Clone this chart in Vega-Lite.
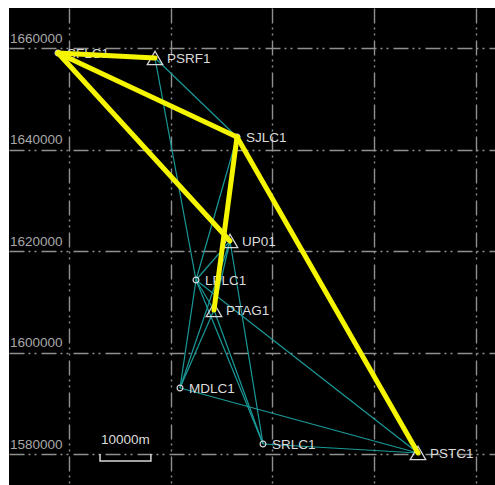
{
  "$schema": "https://vega.github.io/schema/vega-lite/v6.json",
  "width": 495,
  "height": 485,
  "autosize": {"type": "fit", "contains": "padding"},
  "padding": {"left": 9, "top": 8, "right": 0, "bottom": 0},
  "background": "white",
  "config": {
    "view": {"fill": "black", "stroke": null},
    "axis": {"gridColor": "#909090", "gridWidth": 1.4, "gridDash": [15, 4, 2, 4, 2, 5], "gridOpacity": 1, "domain": false, "ticks": false, "title": null}
  },
  "datasets": {
    "stations": [
      {"name": "SFLC1", "kind": "circle", "x": 457838, "y": 1659015},
      {"name": "PSRF1", "kind": "triangle", "x": 476904, "y": 1658030},
      {"name": "SJLC1", "kind": "circle", "x": 493022, "y": 1642463},
      {"name": "UP01", "kind": "triangle", "x": 491646, "y": 1621971},
      {"name": "LPLC1", "kind": "circle", "x": 484963, "y": 1614287},
      {"name": "PTAG1", "kind": "triangle", "x": 488501, "y": 1608376},
      {"name": "MDLC1", "kind": "circle", "x": 481818, "y": 1593006},
      {"name": "SRLC1", "kind": "circle", "x": 498133, "y": 1581972},
      {"name": "PSTC1", "kind": "triangle", "x": 528600, "y": 1580199}
    ],
    "teal": [
      {"edge": "t1", "ord": 0, "x": 476904, "y": 1658030}, {"edge": "t1", "ord": 1, "x": 493022, "y": 1642463},
      {"edge": "t2", "ord": 0, "x": 476904, "y": 1658030}, {"edge": "t2", "ord": 1, "x": 484963, "y": 1614287},
      {"edge": "t3", "ord": 0, "x": 493022, "y": 1642463}, {"edge": "t3", "ord": 1, "x": 484963, "y": 1614287},
      {"edge": "t4", "ord": 0, "x": 491646, "y": 1621971}, {"edge": "t4", "ord": 1, "x": 484963, "y": 1614287},
      {"edge": "t5", "ord": 0, "x": 491646, "y": 1621971}, {"edge": "t5", "ord": 1, "x": 488501, "y": 1608376},
      {"edge": "t6", "ord": 0, "x": 491646, "y": 1621971}, {"edge": "t6", "ord": 1, "x": 481818, "y": 1593006},
      {"edge": "t7", "ord": 0, "x": 491646, "y": 1621971}, {"edge": "t7", "ord": 1, "x": 498133, "y": 1581972},
      {"edge": "t8", "ord": 0, "x": 484963, "y": 1614287}, {"edge": "t8", "ord": 1, "x": 481818, "y": 1593006},
      {"edge": "t9", "ord": 0, "x": 484963, "y": 1614287}, {"edge": "t9", "ord": 1, "x": 498133, "y": 1581972},
      {"edge": "t10", "ord": 0, "x": 484963, "y": 1614287}, {"edge": "t10", "ord": 1, "x": 528600, "y": 1580199},
      {"edge": "t11", "ord": 0, "x": 488501, "y": 1608376}, {"edge": "t11", "ord": 1, "x": 481818, "y": 1593006},
      {"edge": "t12", "ord": 0, "x": 488501, "y": 1608376}, {"edge": "t12", "ord": 1, "x": 498133, "y": 1581972},
      {"edge": "t14", "ord": 0, "x": 481818, "y": 1593006}, {"edge": "t14", "ord": 1, "x": 528600, "y": 1580199},
      {"edge": "t15", "ord": 0, "x": 498133, "y": 1581972}, {"edge": "t15", "ord": 1, "x": 528600, "y": 1580199},
      {"edge": "t16", "ord": 0, "x": 484963, "y": 1614287}, {"edge": "t16", "ord": 1, "x": 488501, "y": 1608376}
    ],
    "yellow": [
      {"edge": "y1", "ord": 0, "x": 457838, "y": 1659015}, {"edge": "y1", "ord": 1, "x": 476904, "y": 1658030},
      {"edge": "y2", "ord": 0, "x": 457838, "y": 1659015}, {"edge": "y2", "ord": 1, "x": 493022, "y": 1642463},
      {"edge": "y3", "ord": 0, "x": 457838, "y": 1659015}, {"edge": "y3", "ord": 1, "x": 491646, "y": 1621971},
      {"edge": "y4", "ord": 0, "x": 493022, "y": 1642463}, {"edge": "y4", "ord": 1, "x": 488501, "y": 1608376},
      {"edge": "y5", "ord": 0, "x": 493022, "y": 1642463}, {"edge": "y5", "ord": 1, "x": 528600, "y": 1580199}
    ],
    "scalebar": [
      {"ord": 0, "x": 466100, "y": 1580000},
      {"ord": 1, "x": 466100, "y": 1578600},
      {"ord": 2, "x": 476100, "y": 1578600},
      {"ord": 3, "x": 476100, "y": 1580000}
    ],
    "scaletext": [{"label": "10000m", "x": 471100, "y": 1581400}]
  },
  "layer": [
    {
      "data": {"name": "teal"},
      "mark": {"type": "line", "stroke": "#1a9a9a", "strokeWidth": 1.2},
      "encoding": {
        "x": {"field": "x", "type": "quantitative", "scale": {"domain": [448206, 543735], "zero": false, "nice": false},
              "axis": {"values": [460000, 480000, 500000, 520000, 540000], "labels": false, "grid": true}},
        "y": {"field": "y", "type": "quantitative", "scale": {"domain": [1573892, 1667882], "zero": false, "nice": false},
              "axis": {"values": [1580000, 1600000, 1620000, 1640000, 1660000], "format": "d", "offset": -60, "labelPadding": 7,
                       "labelBaseline": "bottom", "labelOffset": -3, "labelColor": "#a8a8a8", "labelFont": "Liberation Sans", "labelFontSize": 13.5, "grid": true}},
        "detail": {"field": "edge"},
        "order": {"field": "ord"}
      }
    },
    {
      "data": {"name": "stations"},
      "transform": [{"filter": "datum.kind === 'triangle'"}],
      "mark": {"type": "point", "shape": "triangle-up", "size": 240, "filled": false, "stroke": "#d8d8d8", "strokeWidth": 1.3, "opacity": 1},
      "encoding": {"x": {"field": "x", "type": "quantitative"}, "y": {"field": "y", "type": "quantitative"}}
    },
    {
      "data": {"name": "stations"},
      "transform": [{"filter": "datum.kind === 'circle'"}],
      "mark": {"type": "point", "shape": "circle", "size": 34, "filled": false, "stroke": "#d8d8d8", "strokeWidth": 1.2, "opacity": 1},
      "encoding": {"x": {"field": "x", "type": "quantitative"}, "y": {"field": "y", "type": "quantitative"}}
    },
    {
      "data": {"name": "stations"},
      "transform": [{"filter": "datum.kind === 'triangle'"}],
      "mark": {"type": "text", "align": "left", "baseline": "middle", "dx": 12, "dy": 1.5, "font": "Liberation Sans", "fontSize": 13.5, "color": "#dcdcdc"},
      "encoding": {"x": {"field": "x", "type": "quantitative"}, "y": {"field": "y", "type": "quantitative"}, "text": {"field": "name"}}
    },
    {
      "data": {"name": "stations"},
      "transform": [{"filter": "datum.kind === 'circle'"}],
      "mark": {"type": "text", "align": "left", "baseline": "middle", "dx": 9, "dy": 1, "font": "Liberation Sans", "fontSize": 13.5, "color": "#dcdcdc"},
      "encoding": {"x": {"field": "x", "type": "quantitative"}, "y": {"field": "y", "type": "quantitative"}, "text": {"field": "name"}}
    },
    {
      "data": {"name": "yellow"},
      "mark": {"type": "line", "stroke": "#f5f500", "strokeWidth": 5, "strokeCap": "round"},
      "encoding": {
        "x": {"field": "x", "type": "quantitative"},
        "y": {"field": "y", "type": "quantitative"},
        "detail": {"field": "edge"},
        "order": {"field": "ord"}
      }
    },
    {
      "data": {"name": "scalebar"},
      "mark": {"type": "line", "stroke": "#d8d8d8", "strokeWidth": 1.5},
      "encoding": {
        "x": {"field": "x", "type": "quantitative"},
        "y": {"field": "y", "type": "quantitative"},
        "order": {"field": "ord"}
      }
    },
    {
      "data": {"name": "scaletext"},
      "mark": {"type": "text", "align": "center", "baseline": "bottom", "font": "Liberation Sans", "fontSize": 13.5, "color": "#dcdcdc"},
      "encoding": {"x": {"field": "x", "type": "quantitative"}, "y": {"field": "y", "type": "quantitative"}, "text": {"field": "label"}}
    }
  ]
}
